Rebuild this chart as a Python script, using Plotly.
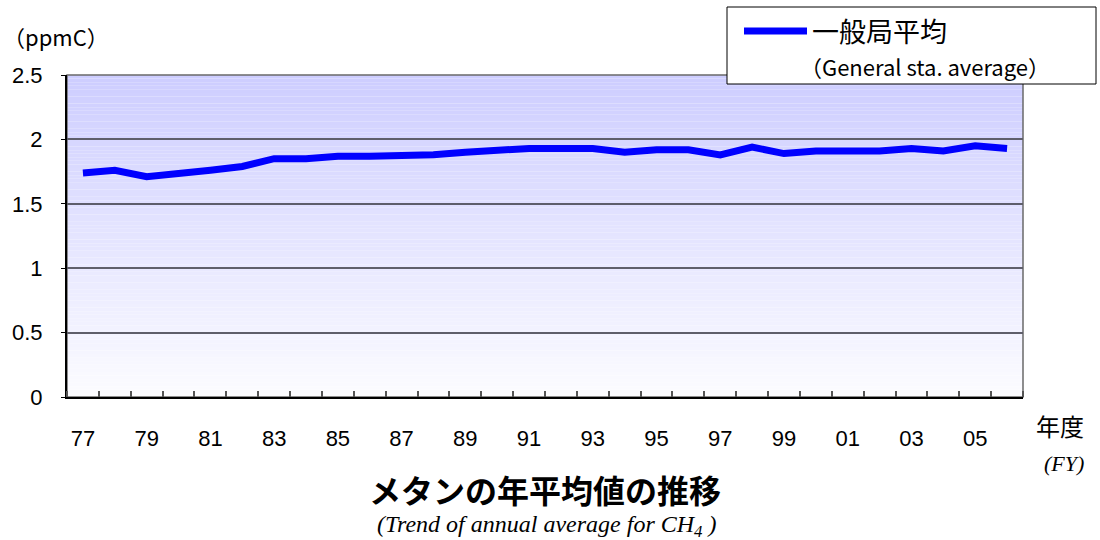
import plotly.graph_objects as go

# Fiscal years (two-digit) and annual average methane concentration (ppmC)
years = ["77", "78", "79", "80", "81", "82", "83", "84", "85", "86",
         "87", "88", "89", "90", "91", "92", "93", "94", "95", "96",
         "97", "98", "99", "00", "01", "02", "03", "04", "05", "06"]
ch4_general = [1.74, 1.76, 1.71, 1.73, 1.76, 1.79, 1.85, 1.85, 1.87, 1.87,
               1.87, 1.88, 1.90, 1.92, 1.93, 1.93, 1.93, 1.90, 1.92, 1.92,
               1.88, 1.94, 1.89, 1.91, 1.91, 1.91, 1.93, 1.91, 1.95, 1.93]
y_tick_vals = [0, 0.5, 1, 1.5, 2, 2.5]
y_tick_text = ["0", "0.5", "1", "1.5", "2", "2.5"]

# category positions along the x axis; every other year is labelled
x_pos = list(range(len(years)))
x_tick_vals = x_pos[::2]
x_tick_text = years[::2]

W, H = 1100, 540
ML, MR, MT, MB = 67, 77, 75, 143
PW, PH = W - ML - MR, H - MT - MB


def px(x):
    return (x - ML) / PW


def py(y):
    return (H - MB - y) / PH


LINE_BLUE = "#0000FF"
JP = "Noto Sans CJK JP, sans-serif"
NUM = "Liberation Sans Narrow, Arial Narrow, Liberation Sans, sans-serif"
SERIF = "Liberation Serif, Times New Roman, serif"

fig = go.Figure()
fig.add_trace(go.Scatter(
    x=x_pos, y=ch4_general, mode="lines", name="一般局平均",
    line=dict(color=LINE_BLUE, width=7), showlegend=False,
    customdata=years, hovertemplate="%{customdata}: %{y}<extra></extra>",
))

shapes = []
# vertical lavender-to-white gradient of the plotting area
N = 90
top_rgb = (205, 205, 255)
bot_rgb = (252, 252, 255)
for i in range(N):
    t = (i + 0.5) / N
    c = tuple(round(b + (tp - b) * t) for b, tp in zip(bot_rgb, top_rgb))
    shapes.append(dict(type="rect", xref="x domain", yref="y domain",
                       x0=0, x1=1, y0=i / N, y1=(i + 1) / N,
                       fillcolor="rgb(%d,%d,%d)" % c, line=dict(width=0),
                       layer="below"))
# plot frame
shapes.append(dict(type="rect", xref="x domain", yref="y domain",
                   x0=0, x1=1, y0=0, y1=1, line=dict(color="#6a6a6a", width=1.5),
                   fillcolor="rgba(0,0,0,0)", layer="below"))
# legend box and sample line
shapes.append(dict(type="rect", xref="paper", yref="paper",
                   x0=px(727), x1=px(1096), y0=py(84), y1=py(7),
                   line=dict(color="black", width=1), fillcolor="white",
                   layer="above"))
shapes.append(dict(type="line", xref="paper", yref="paper",
                   x0=px(744), x1=px(807), y0=py(31), y1=py(31),
                   line=dict(color=LINE_BLUE, width=7), layer="above"))

annotations = [
    dict(text="一般局平均", x=px(810), y=py(31), xanchor="left", yanchor="middle",
         font=dict(family=JP, size=27, color="black")),
    dict(text="（General sta. average）", x=px(798), y=py(66), xanchor="left",
         yanchor="middle", font=dict(family=JP, size=22, color="black")),
    dict(text="（ppmC）", x=px(1), y=py(36), xanchor="left", yanchor="middle",
         font=dict(family=JP, size=22, color="black")),
    dict(text="年度", x=px(1060), y=py(426), xanchor="center", yanchor="middle",
         font=dict(family=JP, size=24, color="black")),
    dict(text="<i>(FY)</i>", x=px(1064), y=py(463), xanchor="center", yanchor="middle",
         font=dict(family=SERIF, size=22, color="black")),
    dict(text="<b>メタンの年平均値の推移</b>", x=px(545), y=py(489), xanchor="center",
         yanchor="middle", font=dict(family=JP, size=32, color="black")),
    dict(text="<i>(Trend of annual average for CH<sub>4</sub> )</i>", x=px(547), y=py(526),
         xanchor="center", yanchor="middle",
         font=dict(family=SERIF, size=24, color="black")),
]
for a in annotations:
    a.update(xref="paper", yref="paper", showarrow=False)

fig.update_layout(
    width=W, height=H,
    margin=dict(l=ML, r=MR, t=MT, b=MB),
    paper_bgcolor="white", plot_bgcolor="white",
    shapes=shapes, annotations=annotations,
    xaxis=dict(
        range=[-0.5, len(years) - 0.5],
        tickmode="array", tickvals=x_tick_vals, ticktext=x_tick_text,
        ticks="", tickangle=0,
        minor=dict(tickmode="linear", tick0=-0.5, dtick=1, ticks="inside",
                   ticklen=6, tickcolor="#555555", tickwidth=1.5, showgrid=False),
        showline=True, linecolor="black", linewidth=2,
        showgrid=False, zeroline=False, ticklabelstandoff=21,
        tickfont=dict(family=NUM, size=22, color="black"),
    ),
    yaxis=dict(
        range=[0, 2.5], tickmode="array", tickvals=y_tick_vals, ticktext=y_tick_text,
        ticks="outside", ticklen=4, tickcolor="black",
        showline=True, linecolor="black", linewidth=2,
        showgrid=True, gridcolor="#5e5e6a", gridwidth=1.5, zeroline=False,
        ticklabelstandoff=14,
        tickfont=dict(family="Liberation Sans, Arial, sans-serif", size=22, color="black"),
    ),
)

fig.write_html("out.html")
